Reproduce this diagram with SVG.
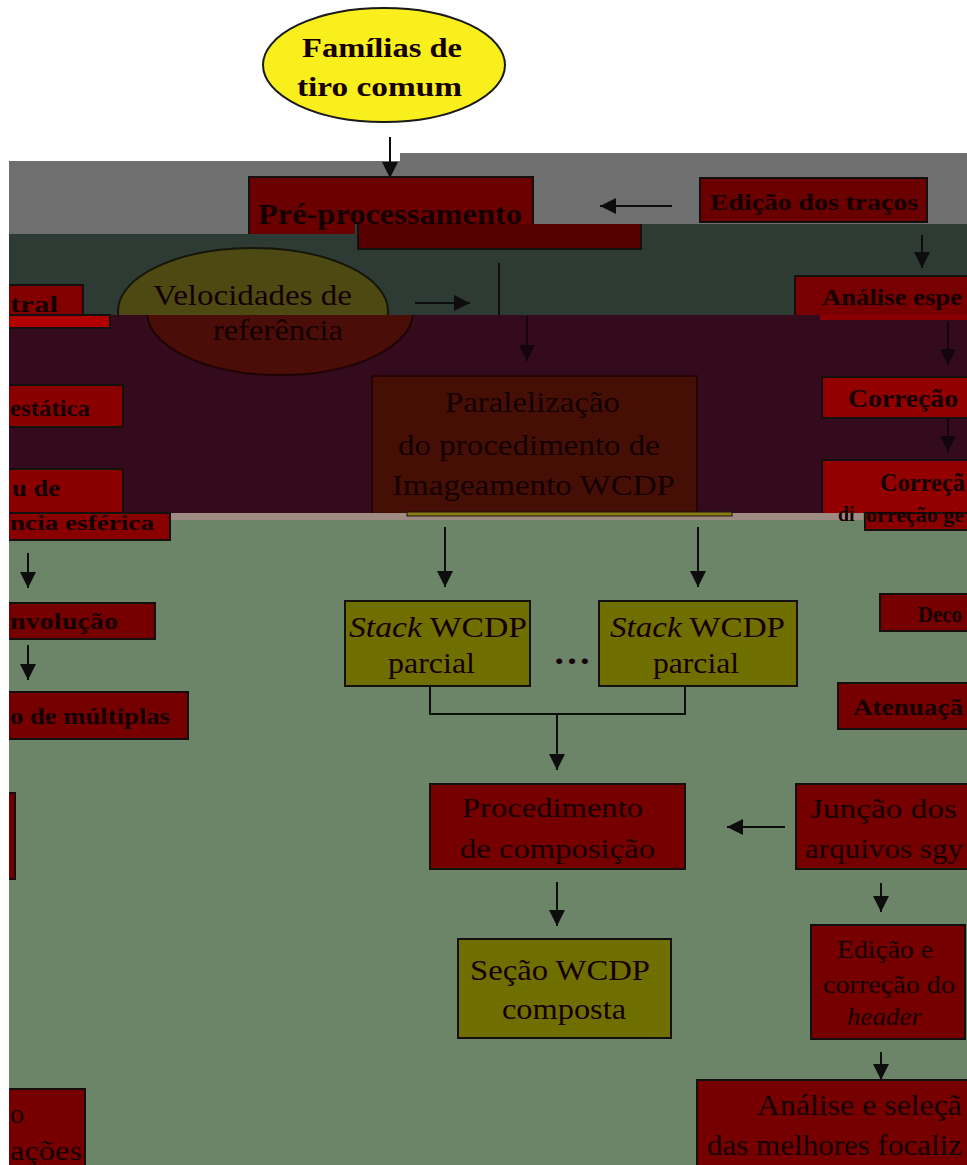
<svg xmlns="http://www.w3.org/2000/svg" width="967" height="1165" viewBox="0 0 967 1165">
<style>
.b{font-family:"Liberation Serif","Times New Roman",serif;font-weight:bold;fill:#140000}
.r{font-family:"Liberation Serif","Times New Roman",serif;fill:#140000}
.box{stroke:#151010;stroke-width:2}
.cn{stroke:#0d0d0d;stroke-width:2;fill:none}
.dm{stroke:#14040c;stroke-width:2;fill:none}
</style>
<defs>
<marker id="ah" markerUnits="userSpaceOnUse" markerWidth="18" markerHeight="16" refX="16" refY="8" orient="auto"><path d="M0,0 L16,8 L0,16 Z" fill="#0d0d0d"/></marker>
<marker id="ahd" markerUnits="userSpaceOnUse" markerWidth="18" markerHeight="16" refX="16" refY="8" orient="auto"><path d="M0,0 L16,8 L0,16 Z" fill="#14040c"/></marker>
<clipPath id="cB"><polygon points="9,161 400,161 400,153 967,153 967,224 355,224 355,234 9,234"/></clipPath>
<clipPath id="cC"><polygon points="9,234 355,234 355,224 967,224 967,315 9,315"/></clipPath>
<clipPath id="cD"><rect x="9" y="315" width="958" height="198"/></clipPath>
</defs>
<rect width="967" height="1165" fill="#ffffff"/>
<g id="bands">
<polygon points="9,161 400,161 400,153 967,153 967,224 355,224 355,234 9,234" fill="#6f6f6f"/>
<polygon points="9,234 355,234 355,224 967,224 967,315 9,315" fill="#2e3b35"/>
<rect x="9" y="315" width="958" height="198" fill="#330b1d"/>
<rect x="9" y="513" width="958" height="652" fill="#6c8468"/>
<rect x="163" y="513" width="700" height="7" fill="#9d8b84"/>
</g>
<g id="connectors">
<line class="cn" x1="390" y1="137" x2="390" y2="178" marker-end="url(#ah)"/>
<line class="cn" x1="672" y1="206" x2="600" y2="206" marker-end="url(#ah)"/>
<line class="cn" x1="922" y1="235" x2="922" y2="268" marker-end="url(#ah)"/>
<line class="cn" x1="415" y1="303" x2="470" y2="303" marker-end="url(#ah)"/>
<line class="cn" x1="499" y1="263" x2="499" y2="315"/>
<line class="dm" x1="527" y1="316" x2="527" y2="361" marker-end="url(#ahd)"/>
<line class="dm" x1="948" y1="321" x2="948" y2="365" marker-end="url(#ahd)"/>
<line class="dm" x1="948" y1="418" x2="948" y2="452" marker-end="url(#ahd)"/>
<line class="cn" x1="28" y1="553" x2="28" y2="588" marker-end="url(#ah)"/>
<line class="cn" x1="28" y1="645" x2="28" y2="680" marker-end="url(#ah)"/>
<line class="cn" x1="445" y1="527" x2="445" y2="587" marker-end="url(#ah)"/>
<line class="cn" x1="698" y1="527" x2="698" y2="587" marker-end="url(#ah)"/>
<polyline class="cn" points="430,686 430,714 685,714 685,686"/>
<line class="cn" x1="557" y1="714" x2="557" y2="770" marker-end="url(#ah)"/>
<line class="cn" x1="785" y1="827" x2="727" y2="827" marker-end="url(#ah)"/>
<line class="cn" x1="557" y1="882" x2="557" y2="926" marker-end="url(#ah)"/>
<line class="cn" x1="881" y1="883" x2="881" y2="912" marker-end="url(#ah)"/>
<line class="cn" x1="881" y1="1052" x2="881" y2="1080" marker-end="url(#ah)"/>
</g>
<g id="familias">
<ellipse cx="384" cy="65" rx="121" ry="57" fill="#f9ef1c" stroke="#1a1a1a" stroke-width="2"/>
<text class="b" x="302" y="57" font-size="28" textLength="160" lengthAdjust="spacingAndGlyphs" fill="#111">Famílias de</text>
<text class="b" x="297" y="96" font-size="28" textLength="165" lengthAdjust="spacingAndGlyphs" fill="#111">tiro comum</text>
</g>
<g id="preprocessamento">
<rect class="box" x="249" y="177" width="284" height="70" fill="#6b0000" clip-path="url(#cB)"/>
<text class="b" x="258" y="224" font-size="29" textLength="264" lengthAdjust="spacingAndGlyphs" clip-path="url(#cB)">Pré-processamento</text>
<rect class="box" x="358" y="200" width="283" height="49" fill="#560000" clip-path="url(#cC)"/>
</g>
<g id="edicao-tracos">
<rect class="box" x="700" y="178" width="227" height="44" fill="#6b0000"/>
<text class="b" x="710" y="210" font-size="24" textLength="208" lengthAdjust="spacingAndGlyphs">Edição dos traços</text>
</g>
<g id="velocidades">
<g clip-path="url(#cC)">
<ellipse cx="253" cy="311" rx="135" ry="63" fill="#4c4a12" stroke="#161608" stroke-width="2"/>
<text class="r" x="153" y="305" font-size="29" textLength="199" lengthAdjust="spacingAndGlyphs" fill="#151508">Velocidades de</text>
</g>
<g clip-path="url(#cD)">
<ellipse cx="280" cy="312" rx="133" ry="63" fill="#4a0d08" stroke="#1e0404" stroke-width="2"/>
<text class="r" x="213" y="340" font-size="29" textLength="130" lengthAdjust="spacingAndGlyphs" fill="#2a0505">referência</text>
</g>
</g>
<g id="espectral-left">
<rect class="box" x="4" y="285" width="79" height="40" fill="#820000" clip-path="url(#cC)"/>
<text class="b" x="10" y="312" font-size="24" textLength="48" lengthAdjust="spacingAndGlyphs" clip-path="url(#cC)">tral</text>
<rect class="box" x="4" y="315" width="106" height="13" fill="#b00000"/>
</g>
<g id="analise-espectral">
<rect class="box" x="795" y="276" width="180" height="50" fill="#780000" clip-path="url(#cC)"/>
<text class="b" x="822" y="305" font-size="24" textLength="140" lengthAdjust="spacingAndGlyphs" clip-path="url(#cC)">Análise espe</text>
<rect x="820" y="315" width="150" height="5" fill="#8a0000"/>
</g>
<g id="estatica">
<rect class="box" x="4" y="385" width="119" height="42" fill="#8a0000"/>
<text class="b" x="10" y="416" font-size="24" textLength="80" lengthAdjust="spacingAndGlyphs">estática</text>
</g>
<g id="divergencia">
<rect class="box" x="4" y="469" width="119" height="60" fill="#8a0000" clip-path="url(#cD)"/>
<text class="b" x="12" y="496" font-size="24" textLength="48" lengthAdjust="spacingAndGlyphs">u de</text>
<rect class="box" x="4" y="513" width="166" height="27" fill="#8a0000"/>
<text class="b" x="10" y="530" font-size="21" textLength="144" lengthAdjust="spacingAndGlyphs">ncia esférica</text>
</g>
<g id="paralelizacao">
<rect x="372" y="376" width="325" height="150" fill="#450f06" stroke="#240404" stroke-width="2" clip-path="url(#cD)"/>
<text class="r" x="445" y="412" font-size="29" textLength="175" lengthAdjust="spacingAndGlyphs" fill="#260606">Paralelização</text>
<text class="r" x="398" y="455" font-size="29" textLength="262" lengthAdjust="spacingAndGlyphs" fill="#260606">do procedimento de</text>
<text class="r" x="392" y="495" font-size="29" textLength="283" lengthAdjust="spacingAndGlyphs" fill="#260606">Imageamento WCDP</text>
<rect x="407" y="512" width="325" height="4" fill="#8c7a12" stroke="#1a1410" stroke-width="1"/>
</g>
<g id="correcao1">
<rect class="box" x="822" y="377" width="150" height="41" fill="#920000"/>
<text class="b" x="848" y="407" font-size="25" textLength="110" lengthAdjust="spacingAndGlyphs">Correção</text>
</g>
<g id="correcao2">
<rect class="box" x="822" y="460" width="150" height="60" fill="#920000" clip-path="url(#cD)"/>
<text class="b" x="880" y="491" font-size="25" textLength="85" lengthAdjust="spacingAndGlyphs">Correçã</text>
<rect class="box" x="865" y="513" width="110" height="17" fill="#8a0000"/>
<text class="b" x="838" y="521" font-size="20">di</text>
<text class="b" x="866" y="522" font-size="20" textLength="98" lengthAdjust="spacingAndGlyphs">orreção ge</text>
</g>
<g id="stack1">
<rect class="box" x="345" y="601" width="185" height="85" fill="#6f6f00"/>
<text class="r" x="349" y="637" font-size="30" textLength="178" lengthAdjust="spacingAndGlyphs"><tspan font-style="italic">Stack</tspan> WCDP</text>
<text class="r" x="388" y="673" font-size="30" textLength="87" lengthAdjust="spacingAndGlyphs">parcial</text>
</g>
<g id="dots">
<text class="b" x="553" y="664" font-size="34" textLength="38" lengthAdjust="spacingAndGlyphs">…</text>
</g>
<g id="stack2">
<rect class="box" x="599" y="601" width="198" height="85" fill="#6f6f00"/>
<text class="r" x="610" y="637" font-size="30" textLength="175" lengthAdjust="spacingAndGlyphs"><tspan font-style="italic">Stack</tspan> WCDP</text>
<text class="r" x="653" y="673" font-size="30" textLength="86" lengthAdjust="spacingAndGlyphs">parcial</text>
</g>
<g id="composicao">
<rect class="box" x="430" y="784" width="255" height="85" fill="#760000"/>
<text class="r" x="462" y="817" font-size="28" textLength="181" lengthAdjust="spacingAndGlyphs">Procedimento</text>
<text class="r" x="460" y="858" font-size="28" textLength="195" lengthAdjust="spacingAndGlyphs">de composição</text>
</g>
<g id="juncao">
<rect class="box" x="796" y="784" width="180" height="85" fill="#760000"/>
<text class="r" x="810" y="818" font-size="28" textLength="147" lengthAdjust="spacingAndGlyphs">Junção dos</text>
<text class="r" x="805" y="858" font-size="28" textLength="158" lengthAdjust="spacingAndGlyphs">arquivos sgy</text>
</g>
<g id="secao">
<rect class="box" x="458" y="939" width="213" height="99" fill="#6f6f00"/>
<text class="r" x="470" y="980" font-size="30" textLength="180" lengthAdjust="spacingAndGlyphs">Seção WCDP</text>
<text class="r" x="502" y="1019" font-size="30" textLength="124" lengthAdjust="spacingAndGlyphs">composta</text>
</g>
<g id="header">
<rect class="box" x="811" y="925" width="154" height="114" fill="#760000"/>
<text class="r" x="837" y="958" font-size="25" textLength="96" lengthAdjust="spacingAndGlyphs">Edição e</text>
<text class="r" x="823" y="993" font-size="25" textLength="132" lengthAdjust="spacingAndGlyphs">correção do</text>
<text class="r" x="847" y="1025" font-size="25" font-style="italic" textLength="75" lengthAdjust="spacingAndGlyphs">header</text>
</g>
<g id="analise-selecao">
<rect class="box" x="697" y="1080" width="280" height="95" fill="#760000"/>
<text class="r" x="757" y="1115" font-size="30" textLength="205" lengthAdjust="spacingAndGlyphs">Análise e seleçã</text>
<text class="r" x="707" y="1155" font-size="30" textLength="255" lengthAdjust="spacingAndGlyphs">das melhores focaliz</text>
</g>
<g id="deconvolucao">
<rect class="box" x="4" y="603" width="151" height="36" fill="#760000"/>
<text class="b" x="10" y="629" font-size="24" textLength="108" lengthAdjust="spacingAndGlyphs">nvolução</text>
</g>
<g id="multiplas">
<rect class="box" x="4" y="692" width="184" height="47" fill="#760000" stroke-width="3"/>
<text class="b" x="10" y="724" font-size="24" textLength="160" lengthAdjust="spacingAndGlyphs">o de múltiplas</text>
</g>
<g id="left-box">
<rect class="box" x="4" y="793" width="11" height="86" fill="#760000"/>
</g>
<g id="bottom-left">
<rect class="box" x="4" y="1089" width="81" height="90" fill="#760000"/>
<text class="r" x="10" y="1123" font-size="28">o</text>
<text class="r" x="10" y="1160" font-size="28" textLength="72" lengthAdjust="spacingAndGlyphs">ações</text>
</g>
<g id="deco">
<rect class="box" x="880" y="594" width="95" height="37" fill="#760000"/>
<text class="b" x="918" y="622" font-size="24" textLength="44" lengthAdjust="spacingAndGlyphs">Deco</text>
</g>
<g id="atenuacao">
<rect class="box" x="838" y="683" width="137" height="46" fill="#760000"/>
<text class="b" x="853" y="715" font-size="24" textLength="110" lengthAdjust="spacingAndGlyphs">Atenuaçã</text>
</g>
<rect id="margin" x="0" y="150" width="9" height="1015" fill="#ffffff"/>
</svg>
